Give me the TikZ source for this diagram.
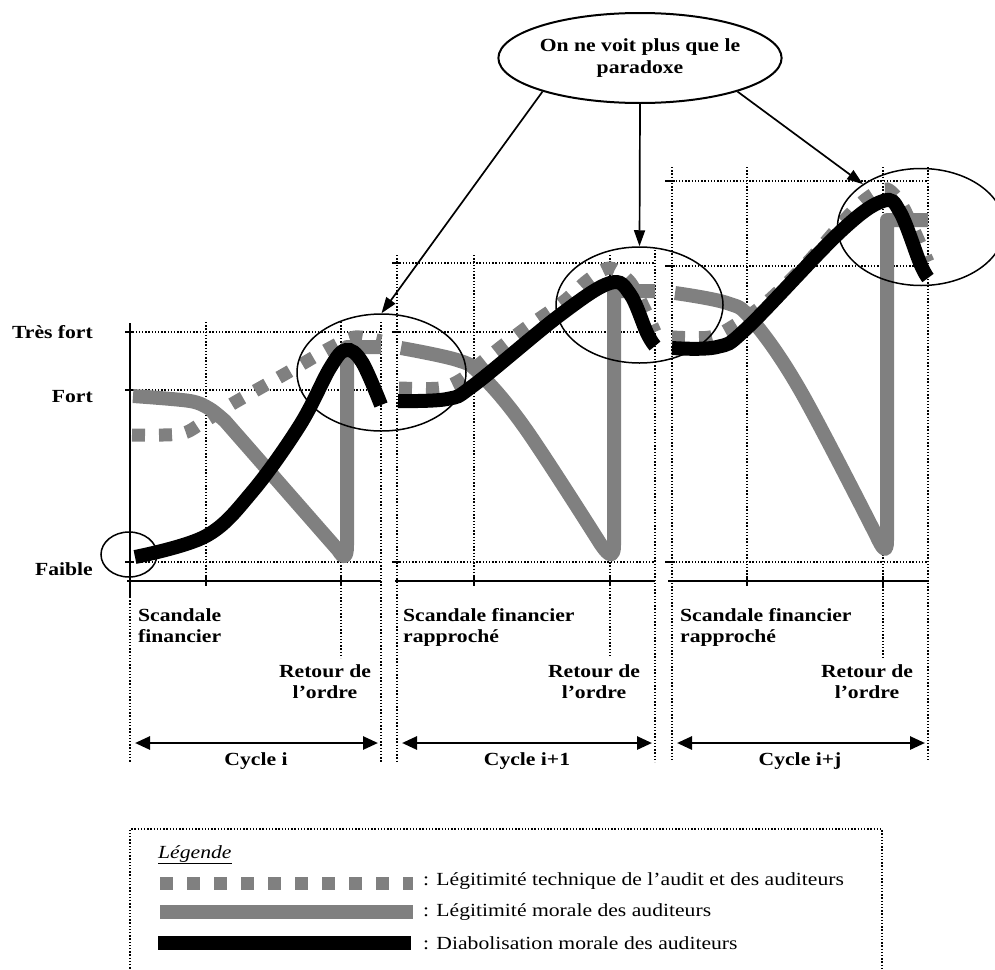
\documentclass[tikz,border=0pt]{standalone}
\usepackage{fontspec}
\setmainfont{Liberation Serif}[FakeStretch=1.17]
\usetikzlibrary{shapes.geometric,arrows.meta}

\begin{document}
\begin{tikzpicture}[x=1pt,y=-1pt,
    font=\fontsize{18.5}{21.5}\selectfont,
    etiq/.style={font=\fontsize{18.5}{21.5}\selectfont\bfseries, inner sep=0pt},
    grille/.style={line width=1.4pt, dash pattern=on 1.4pt off 1.8pt},
    axe/.style={line width=2pt},
    technique/.style={gray, line width=13pt, dash pattern=on 13pt off 14pt},
    morale/.style={gray, line width=14pt, line join=round},
    diabol/.style={black, line width=14pt},
    cercle/.style={draw, ellipse, line width=1.5pt, inner sep=0pt},
    bulle/.style={draw, ellipse, line width=2pt, minimum width=276pt, minimum height=90pt, align=center},
    fleche/.style={line width=1.7pt, -{Triangle[length=16pt,width=11pt]}},
    cyclefl/.style={line width=2.7pt, {Triangle[length=15pt,width=13pt]}-{Triangle[length=15pt,width=13pt]}}]
      \useasboundingbox (0,0) rectangle (995,969);

      \node[etiq, anchor=east] (TF) at (93,332) {Très fort};
      \node[etiq, anchor=east] (F)  at (93,397) {Fort};
      \node[etiq, anchor=east] (FA) at (93,569) {Faible};

      % cycle i
      \draw[grille] (126,332) -- (381,332) (126,390) -- (381,390) (126,562) -- (381,562);
      \draw[grille] (206,322) -- (206,581) (341,322) -- (341,658) (381,322) -- (381,762) (130,597) -- (130,762);
      \draw[axe] (130,323) -- (130,597) (127,581) -- (381,581) (125,332) -- (134,332) (125,390) -- (134,390)
                 (125,562) -- (134,562) (206,576) -- (206,586) (341,576) -- (341,586);
      % cycle i+1
      \draw[grille] (393,263) -- (655,263) (393,332) -- (655,332) (393,562) -- (655,562);
      \draw[grille] (397,255) -- (397,762) (474,255) -- (474,581) (610,255) -- (610,658) (655,250) -- (655,762);
      \draw[axe] (395,581) -- (655,581) (392,263) -- (401,263) (392,332) -- (401,332) (392,562) -- (401,562)
                 (474,576) -- (474,586) (610,576) -- (610,586);
      % cycle i+j
      \draw[grille] (666,181) -- (928,181) (666,266) -- (928,266) (666,562) -- (928,562);
      \draw[grille] (672,167) -- (672,762) (747,167) -- (747,581) (883,167) -- (883,658) (928,167) -- (928,762);
      \draw[axe] (668,581) -- (929,581) (665,181) -- (675,181) (665,266) -- (675,266) (665,562) -- (675,562)
                 (747,576) -- (747,586) (883,576) -- (883,586);

      % courbes
      \draw[technique] plot[smooth, tension=0.5] coordinates {(132,435) (180,434) (202,423) (232,404) (285,374) (330,348) (355,337) (381,341)};
      \draw[technique] plot[smooth, tension=0.5] coordinates {(399,388) (440,388) (462,379) (482,362) (523,330) (563,302) (588,280) (610,268) (630,282) (645,310) (655,332)};
      \draw[technique] plot[smooth, tension=0.5] coordinates {(672,337) (710,337) (735,325) (767,302) (807,263) (850,214) (870,196) (887,189) (902,205) (917,237) (928,262)};

      \draw[morale] plot[smooth, tension=0.5] coordinates {(133,396) (190,401) (210,409) (225,421)}
                    -- (338,550) .. controls (343,558) and (347,560) .. (347,545) -- (347,347) -- (381,347);
      \draw[morale] plot[smooth, tension=0.6] coordinates {(401,348) (457,360) (480,374) (525,428) (598,540)}
                    .. controls (606,553) and (614,562) .. (614,545) -- (614,291) -- (655,291);
      \draw[morale] plot[smooth, tension=0.6] coordinates {(675,293) (727,303) (752,320) (800,390) (876,535)}
                    .. controls (882,548) and (887,556) .. (887,540) -- (887,220) -- (928,220);

      \draw[diabol] plot[smooth, tension=0.6] coordinates {(135,557) (206,536) (252,492) (300,425) (330,368) (346,350) (362,362) (381,405)};
      \draw[diabol] plot[smooth, tension=0.6] coordinates {(398,401) (447,399) (474,385) (560,315) (610,283) (630,294) (647,333) (655,346)};
      \draw[diabol] plot[smooth, tension=0.6] coordinates {(672,348) (717,347) (747,328) (840,232) (883,201) (900,212) (920,263) (928,278)};

      % paradoxe
      \node[cercle, minimum width=56pt, minimum height=45pt] (P0) at (129,554.5) {};
      \node[cercle, minimum width=169pt, minimum height=117pt] (P1) at (381.5,372.5) {};
      \node[cercle, minimum width=167pt, minimum height=116pt] (P2) at (639.5,305) {};
      \node[cercle, minimum width=167pt, minimum height=117pt] (P3) at (921,227) {};
      \node[etiq, bulle] (PX) at (640,58) {On ne voit plus que le\\paradoxe};

      \path (PX.-161) edge[fleche] (P1.north);
      \path (PX.south) edge[fleche] (P2.north);
      \path (PX.-19)  edge[fleche] (P3);

      % bas des cycles
      \node[etiq, align=left, anchor=north west] (SF1) at (138,608) {Scandale\\financier};
      \node[etiq, align=center, anchor=north]    (RO1) at (325,664) {Retour de\\l’ordre};
      \node[etiq, align=left, anchor=north west] (SF2) at (403,608) {Scandale financier\\rapproché};
      \node[etiq, align=center, anchor=north]    (RO2) at (594,664) {Retour de\\l’ordre};
      \node[etiq, align=left, anchor=north west] (SF3) at (680,608) {Scandale financier\\rapproché};
      \node[etiq, align=center, anchor=north]    (RO3) at (867,664) {Retour de\\l’ordre};

      \coordinate (C1a) at (135,743); \coordinate (C1b) at (378,743);
      \coordinate (C2a) at (402,743); \coordinate (C2b) at (652,743);
      \coordinate (C3a) at (677,743); \coordinate (C3b) at (925,743);
      \path (C1a) edge[cyclefl] (C1b);
      \path (C2a) edge[cyclefl] (C2b);
      \path (C3a) edge[cyclefl] (C3b);
      \node[etiq, anchor=north] (CY1) at (256,752) {Cycle i};
      \node[etiq, anchor=north] (CY2) at (527,752) {Cycle i+1};
      \node[etiq, anchor=north] (CY3) at (800,752) {Cycle i+j};

      % legende
      \draw[grille] (130,975) -- (130,829) -- (882,829) -- (882,975);
      \node[anchor=base west, inner sep=0pt] (LEG) at (158,858) {\underline{\textit{Légende}}};
      \draw[technique] (160,883) -- (413,883);
      \draw[morale] (160,912) -- (413,912);
      \draw[diabol] (158,943) -- (411,943);
      \node[anchor=west, inner sep=0pt] (L1) at (423,881) {: Légitimité technique de l’audit et des auditeurs};
      \node[anchor=west, inner sep=0pt] (L2) at (423,912) {: Légitimité morale des auditeurs};
      \node[anchor=west, inner sep=0pt] (L3) at (423,943) {: Diabolisation morale des auditeurs};
    \end{tikzpicture}
\end{document}
